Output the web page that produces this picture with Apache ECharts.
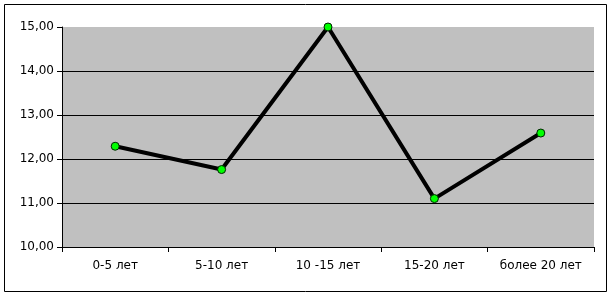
<!DOCTYPE html>
<html>
<head>
<meta charset="utf-8">
<script src="https://cdn.jsdelivr.net/npm/echarts@6/dist/echarts.min.js"></script>
<style>
html,body{margin:0;padding:0;background:#fff;}
#c{width:613px;height:296px;}
</style>
</head>
<body>
<div id="c"></div>
<script>
var categories = ['0-5 лет', '5-10 лет', '10 -15 лет', '15-20 лет', 'более 20 лет'];
var values = [12.29, 11.76, 15.00, 11.10, 12.59];
var yMin = 10, yMax = 15, yStep = 1;

var chart = echarts.init(document.getElementById('c'), null, {renderer: 'canvas'});
var font = '"DejaVu Sans", sans-serif';
chart.setOption({
  animation: false,
  backgroundColor: '#ffffff',
  graphic: [{
    type: 'rect',
    shape: {x: 4.5, y: 4.5, width: 602, height: 287},
    style: {fill: 'none', stroke: '#000', lineWidth: 1},
    silent: true
  }],
  grid: {left: 62, right: 19, top: 27, bottom: 49, show: true, backgroundColor: '#c0c0c0', borderWidth: 0},
  xAxis: {
    type: 'category',
    data: categories,
    boundaryGap: true,
    axisLine: {show: true, lineStyle: {color: '#000', width: 1}},
    axisTick: {show: true, interval: 0, length: 5, lineStyle: {color: '#000'}},
    axisLabel: {color: '#000', fontSize: 12, fontFamily: font, margin: 13, interval: 0, hideOverlap: false}
  },
  yAxis: {
    type: 'value',
    min: yMin, max: yMax, interval: yStep,
    axisLine: {show: true, lineStyle: {color: '#000', width: 1}},
    axisTick: {show: true, length: 5, lineStyle: {color: '#000'}},
    splitLine: {show: true, showMaxLine: false, showMinLine: false, lineStyle: {color: '#000', width: 1}},
    axisLabel: {color: '#000', fontSize: 12, fontFamily: font, margin: 8,
      formatter: function(v){ return v.toFixed(2).replace('.', ','); }}
  },
  series: [{
    type: 'line',
    data: values,
    lineStyle: {color: '#000', width: 4},
    symbol: 'circle',
    symbolSize: 8,
    itemStyle: {color: '#00ff00', borderColor: '#002200', borderWidth: 1},
    z: 5
  }]
});
</script>
</body>
</html>
